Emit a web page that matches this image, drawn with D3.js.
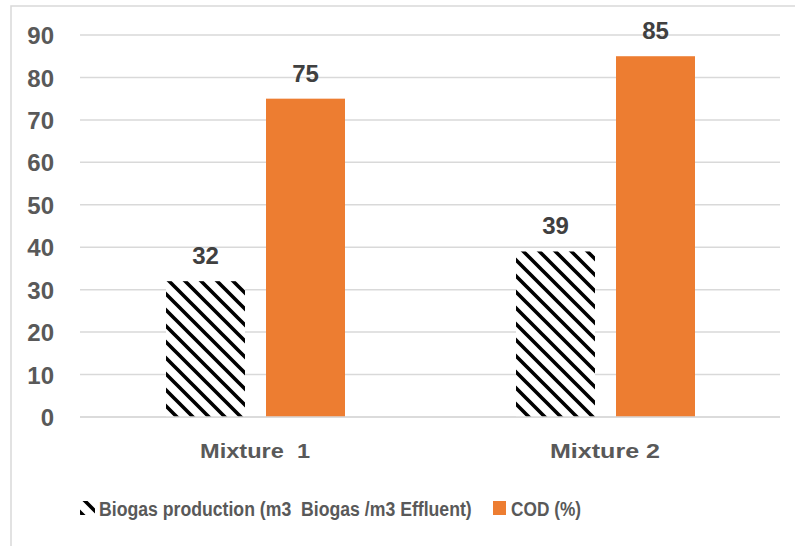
<!DOCTYPE html>
<html><head><meta charset="utf-8">
<script src="https://cdn.jsdelivr.net/npm/d3@7"></script>
<style>body{margin:0;background:#fff}svg{display:block}text{font-family:"Liberation Sans",Arial,sans-serif;font-weight:bold}</style>
</head><body>
<script>
const categories = ["Mixture  1", "Mixture 2"];
const seriesNames = ["Biogas production (m3  Biogas /m3 Effluent)", "COD (%)"];
const biogas = [32, 39];
const cod = [75, 85];
const yTicks = [0, 10, 20, 30, 40, 50, 60, 70, 80, 90];

const W = 795, H = 546;
const svg = d3.select("body").append("svg").attr("width", W).attr("height", H);
const defs = svg.append("defs");
const pat = defs.append("pattern").attr("id", "hatch").attr("patternUnits", "userSpaceOnUse")
  .attr("width", 16).attr("height", 16);
pat.append("rect").attr("width", 16).attr("height", 16).attr("fill", "#fff");
pat.append("path").attr("d", "M-4,-4 L20,20 M-4,12 L4,20 M12,-4 L20,4")
  .attr("stroke", "#000").attr("stroke-width", 3.6);

svg.append("rect").attr("x", 11).attr("y", 6).attr("width", 800).attr("height", 560)
  .attr("fill", "none").attr("stroke", "#d9d9d9").attr("stroke-width", 1.5);

const x0 = d3.scaleBand().domain(categories).range([80, 780]);
const x1 = d3.scaleBand().domain([0, 1]).range([86, 265]).paddingInner(0.21);
const y = d3.scaleLinear().domain([0, 90]).range([417, 35]);

svg.append("g").selectAll("line").data(yTicks).join("line")
  .attr("x1", 80).attr("x2", 780).attr("y1", d => y(d)).attr("y2", d => y(d))
  .attr("stroke", "#d9d9d9").attr("stroke-width", 1.5);

const yAxis = d3.axisLeft(y).tickValues(yTicks).tickSize(0).tickPadding(0);
const ya = svg.append("g").attr("transform", "translate(54,0)").call(yAxis);
ya.select(".domain").remove();
ya.selectAll("text").attr("font-size", 24).attr("fill", "#595959").attr("font-family", "Liberation Sans").attr("font-weight", "bold").attr("dy", "0.36em");

const series = [biogas, cod];
const fills = ["url(#hatch)", "#ed7d31"];
series.forEach((vals, si) => {
  svg.selectAll(null).data(vals).join("rect")
    .attr("x", (d, i) => x0(categories[i]) + x1(si))
    .attr("width", x1.bandwidth())
    .attr("y", d => y(d)).attr("height", d => y(0) - y(d))
    .attr("fill", fills[si]);
  svg.selectAll(null).data(vals).join("text")
    .attr("x", (d, i) => x0(categories[i]) + x1(si) + x1.bandwidth() / 2)
    .attr("y", d => y(d) - 17)
    .attr("text-anchor", "middle").attr("font-size", 24).attr("fill", "#404040")
    .text(d => d);
});

const xAxis = d3.axisBottom(x0).tickSize(0).tickPadding(0);
const xa = svg.append("g").attr("transform", "translate(0,458)").call(xAxis);
xa.select(".domain").remove();
xa.selectAll("text").attr("dy", 0).attr("font-size", 20).attr("fill", "#595959")
  .attr("font-family", "Liberation Sans").attr("font-weight", "bold").style("white-space", "pre")
  .attr("textLength", 110).attr("lengthAdjust", "spacingAndGlyphs");
svg.append("line").attr("x1", 80).attr("x2", 780).attr("y1", y(0)).attr("y2", y(0))
  .attr("stroke", "#d9d9d9").attr("stroke-width", 1.5);

// legend
const lg = svg.append("g");
lg.append("rect").attr("x", 80).attr("y", 501).attr("width", 15).attr("height", 14).attr("fill", "url(#hatch)");
const t1 = lg.append("text").attr("font-size", 21).attr("fill", "#595959")
  .style("white-space", "pre").text(seriesNames[0]);
const w1 = t1.node().getComputedTextLength();
t1.attr("transform", `translate(99,516) scale(${373 / w1},1)`);
lg.append("rect").attr("x", 493).attr("y", 501).attr("width", 13).attr("height", 14).attr("fill", "#ed7d31");
const t2 = lg.append("text").attr("font-size", 21).attr("fill", "#595959")
  .style("white-space", "pre").text(seriesNames[1]);
const w2 = t2.node().getComputedTextLength();
t2.attr("transform", `translate(511,516) scale(${70 / w2},1)`);
</script>
</body></html>
